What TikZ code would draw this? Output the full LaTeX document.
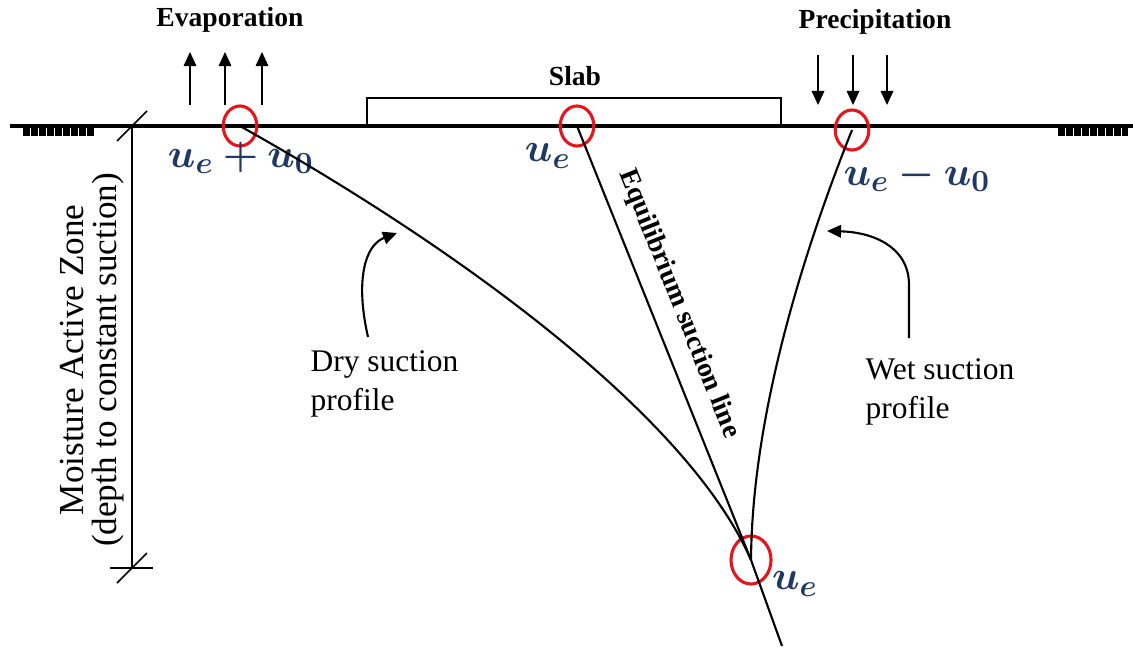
\documentclass[tikz,border=0pt]{standalone}
\usepackage{fontspec}
\setmainfont{Liberation Serif}
\usepackage{amsmath,bm}
\usetikzlibrary{positioning,arrows.meta,shapes.geometric}
\definecolor{MathBlue}{HTML}{1F3864}
\definecolor{RingRed}{HTML}{E8141C}

\begin{document}
\begin{tikzpicture}[
  x=0.0125cm, y=-0.0125cm,
  head/.style={font=\bfseries\fontsize{9.8}{11}\selectfont, inner sep=0pt},
  note/.style={font=\fontsize{11.2}{14}\selectfont, align=left, inner sep=0pt},
  sym/.style={font=\fontsize{15}{17}\selectfont, text=MathBlue, inner sep=0pt},
  ring/.style={ellipse, draw=RingRed, line width=1.1pt, minimum width=0.42cm, minimum height=0.5cm, inner sep=0pt},
  profile/.style={line width=0.75pt},
  ground/.style={line width=2.6pt, dash pattern=on 2.5pt off 0.35pt},
  flux/.style={-{Triangle[length=5pt,width=4.5pt]}, line width=0.45pt},
  arrow/.style={-{Triangle[length=5pt,width=4.5pt]}, line width=0.75pt}
]
\useasboundingbox (0,0) rectangle (1133,650);

% ground surface and slab
\draw[line width=1.1pt] (10,126) -- (1133,126);
\draw[ground] (23,132) -- (95,132);
\draw[ground] (1058,132) -- (1128,132);
\draw[line width=0.8pt] (367,126) rectangle (781,98);
\node[head] (slab) at (575,76) {Slab};

% evaporation and precipitation
\node[head] (evap) at (230,20) {Evaporation};
\node[head] (prec) at (875,22) {Precipitation};
\foreach \x in {190,225,262}
  \draw[flux] (\x,105) -- (\x,52);
\foreach \x in {818,853,887}
  \draw[flux] (\x,55) -- (\x,105);

% suction points
\node[ring] (dry) at (240,126) {};
\node[ring] (eq) at (577,126) {};
\node[ring] (wet) at (852,130) {};
\node[ring, minimum width=0.5cm, minimum height=0.6cm] (base) at (751,560) {};
\coordinate (tail) at (782,646);

\node[sym] (ldry) at (241,158) {$\bm{u_e + u_0}$};
\node[sym] (leq) at (548,156) {$\bm{u_e}$};
\node[sym] (lwet) at (917,176) {$\bm{u_e - u_0}$};
\node[sym] (lbase) at (795,584) {$\bm{u_e}$};

% suction profiles
\draw[profile] (dry.center) .. controls (470,255) and (690,420) .. (base.center);
\draw[profile] (eq.center) -- (base.center);
\draw[profile] (wet.center) .. controls (800,260) and (752,420) .. (base.center);
\draw[profile] (base.center) -- (tail);
\node[head, rotate=-68.2] (eqline) at (679,304) {Equilibrium suction line};

% labels with pointers
\node[note, anchor=north west] (drynote) at (310,350) {Dry suction\\profile};
\node[note, anchor=north west] (wetnote) at (865,358) {Wet suction\\profile};
\coordinate (drytail) at (368,337);
\coordinate (drytip) at (397,233);
\coordinate (wettail) at (909,338);
\coordinate (wettip) at (827,231);
\draw[arrow] (drytail) .. controls (355,280) and (365,245) .. (drytip);
\draw[arrow] (wettail) -- (909,285) .. controls (909,245) and (870,232) .. (wettip);

% moisture active zone
\coordinate (ztop) at (132,126);
\coordinate (zbot) at (132,568);
\draw[line width=0.6pt] (ztop) -- (zbot);
\draw[line width=0.6pt] (117,141) -- (147,111);
\draw[line width=0.6pt] (110,568) -- (153,568);
\draw[line width=0.6pt] (117,583) -- (147,553);
\node[font=\fontsize{12.5}{12}\selectfont, align=center, rotate=90, inner sep=0pt] (zone) at (92,360)
  {Moisture Active Zone\\(depth to constant suction)};
\end{tikzpicture}
\end{document}
